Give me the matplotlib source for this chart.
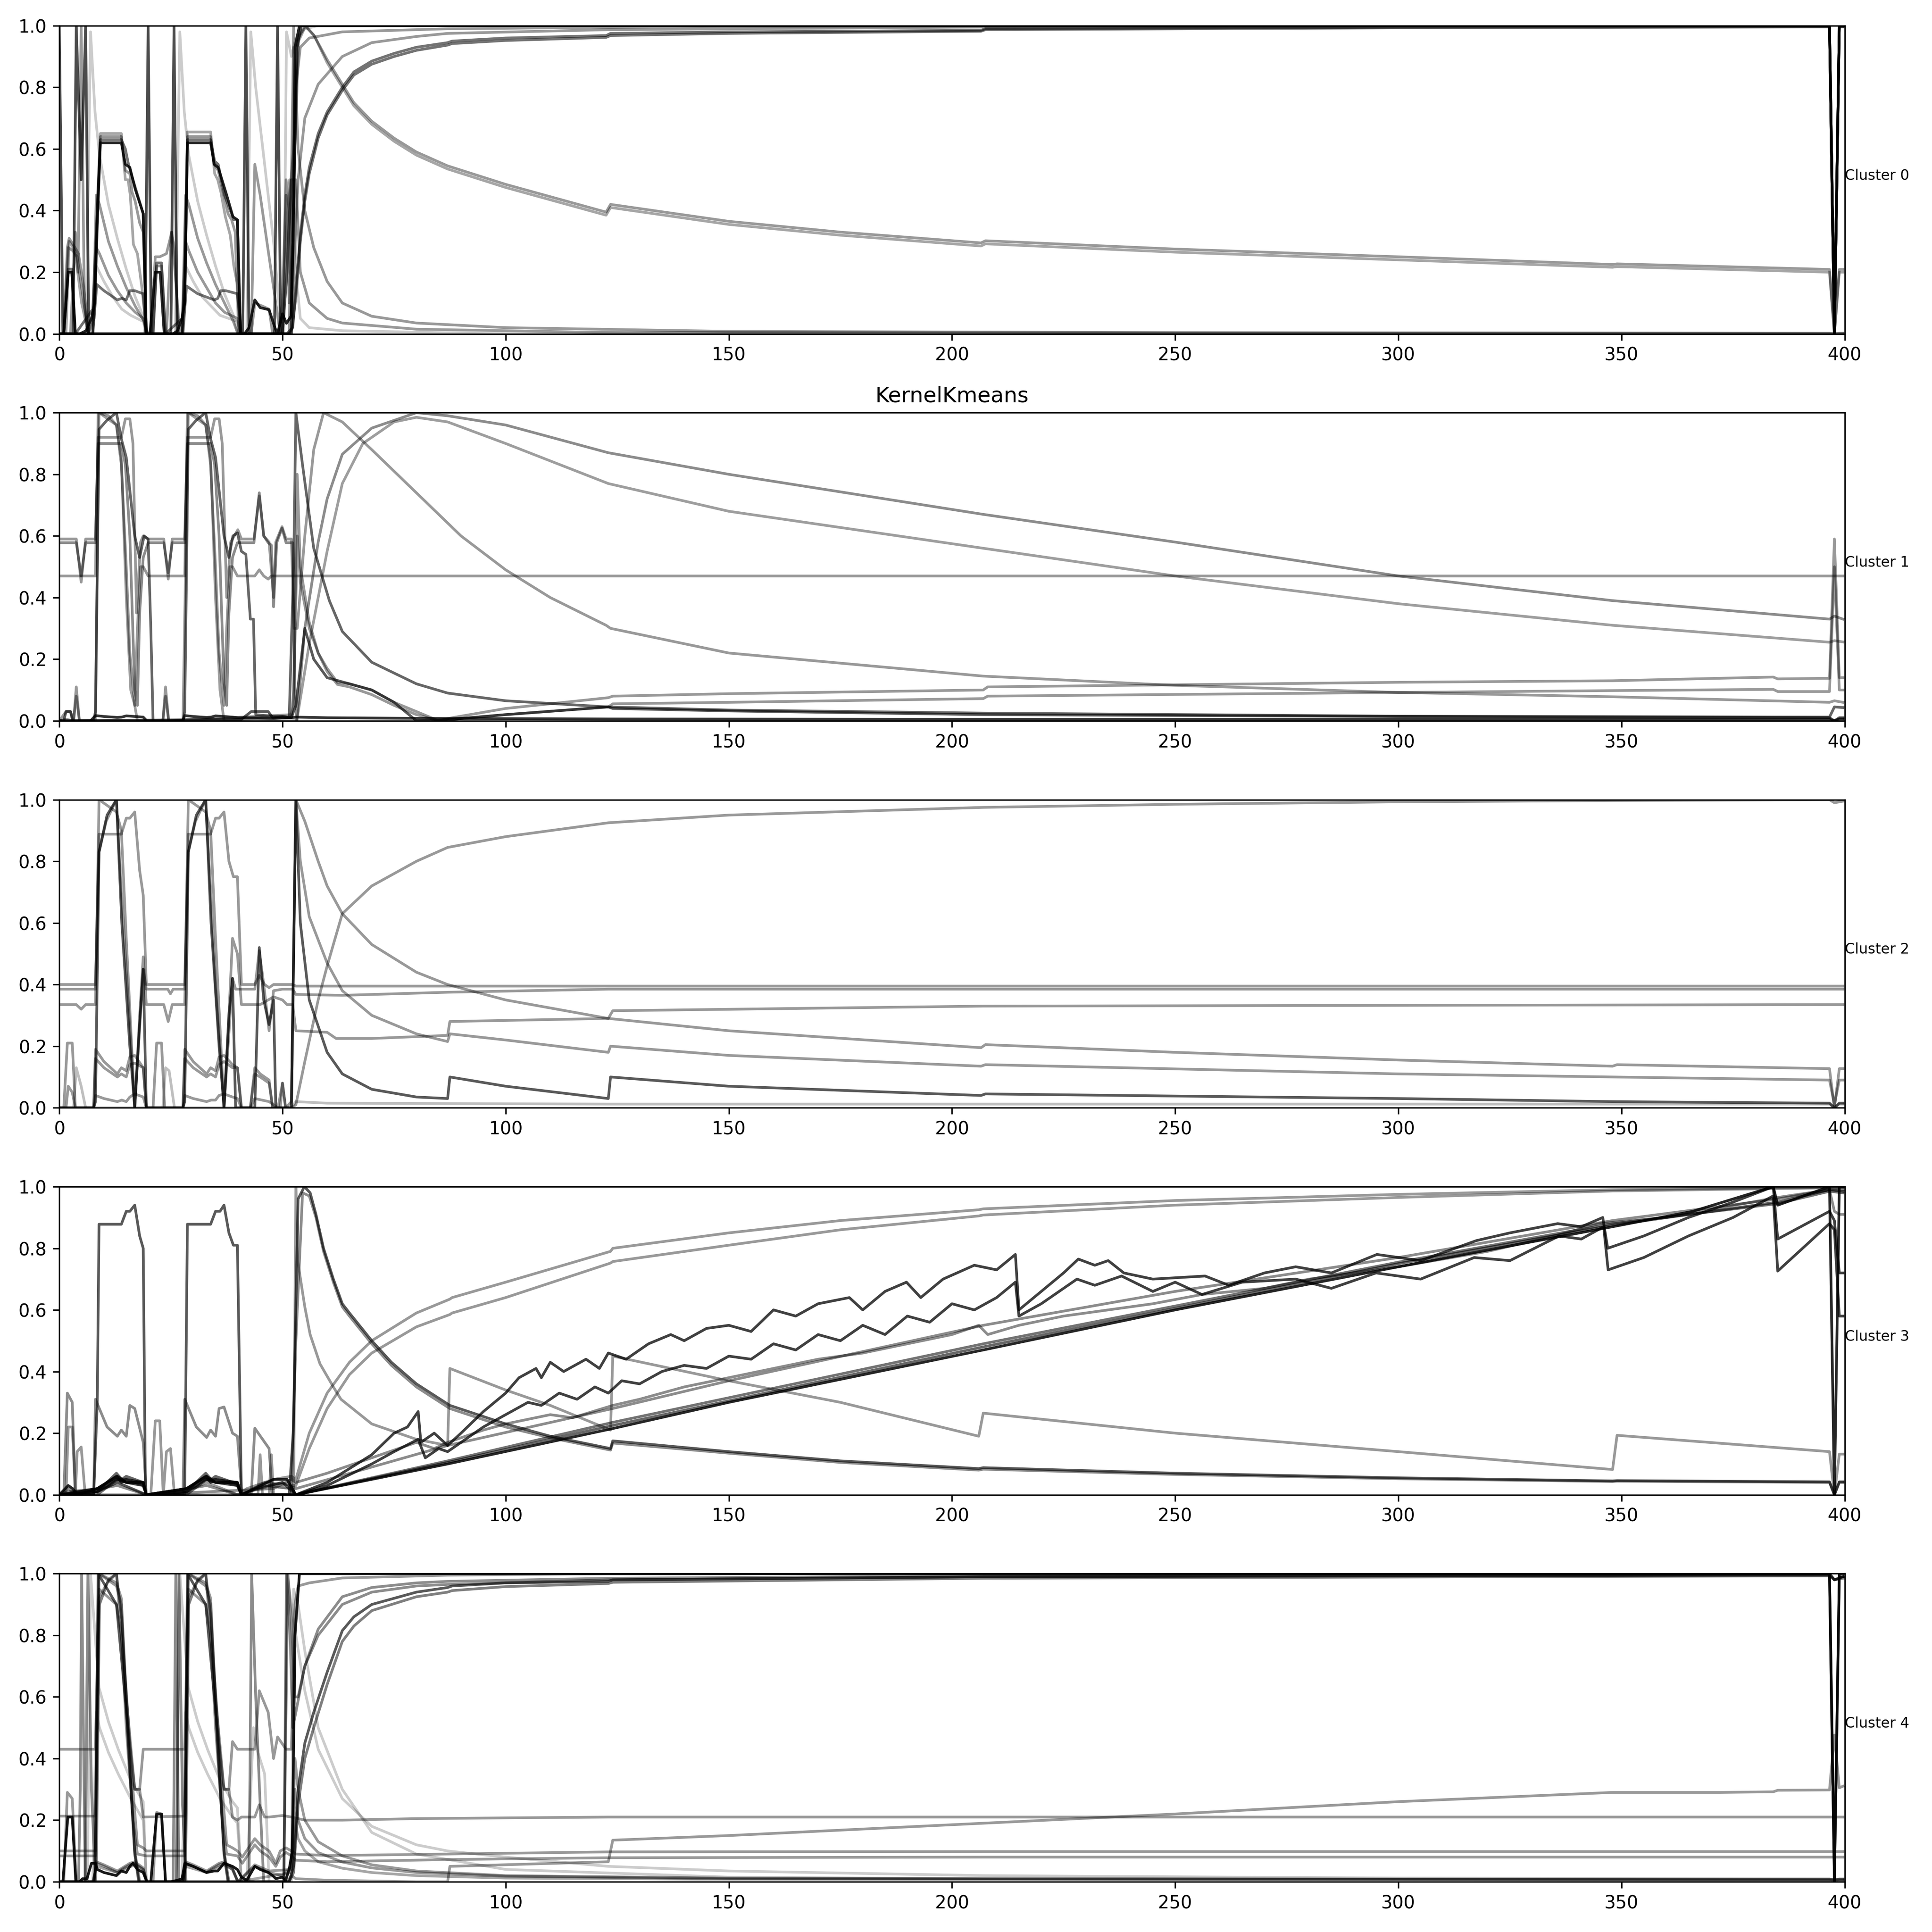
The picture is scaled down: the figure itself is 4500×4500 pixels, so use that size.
import matplotlib
matplotlib.use("Agg")
import matplotlib.pyplot as plt

# Valeurs : chaque courbe = liste de points (x, y)
cluster_labels = ["Cluster 0", "Cluster 1", "Cluster 2", "Cluster 3", "Cluster 4"]
titre = "KernelKmeans"

# ---------------- Cluster 0 ----------------
c0_lines = [
    [(0,0),(1,0),(2,0.2),(2.8,0.2),(3.6,0),(4.6,0),(6,0.01),(7.2,0.05),(7.9,0.1),(8.5,0.35),(9.2,0.62),(13.9,0.62),(14.8,0.55),(15.8,0.54),(17,0.47),(18.8,0.39),(19.5,0),(20.3,0),(21.5,0.2),(22.6,0.2),(23.5,0),(25.5,0),(26.5,0.01),(27.5,0.05),(28.1,0.1),(28.7,0.62),(33.9,0.62),(34.7,0.55),(35.6,0.54),(37.5,0.45),(38.9,0.38),(39.9,0.37),(40.6,0),(41.5,0),(42.5,0.02),(43.8,0.11),(45,0.085),(47,0.078),(48.3,0.02),(48.9,0),(50,0.065),(50.9,0.034),(51.9,0.057),(52.4,0.3),(52.8,0.93),(53.8,1.0),(396.6,1.0),(397.7,0.0),(398.8,1.0),(399.6,1.0)],
    [(0,1.0),(0.8,0),(3.1,0),(3.8,1.0),(4.9,0.5),(5.9,1.0),(6.6,0),(19.2,0),(19.9,1.0),(20.6,0),(25,0),(25.7,1.0),(26.4,0),(41.1,0),(41.8,1.0),(42.5,0),(48.2,0),(48.9,1.0),(49.6,0),(52,0),(52.6,0.5),(53.3,0.93),(54.2,1.0),(396.6,1.0),(397.7,0.0),(398.8,1.0),(399.6,1.0)],
    [(0,0),(1,0),(2,0.28),(3,0.27),(4,0.25),(5,0.15),(6.5,0),(7.8,0.05),(8.5,0.4),(9.2,0.64),(13.9,0.64),(14.8,0.53),(15.8,0.52),(16.3,0.46),(17,0.43),(18,0.36),(18.8,0.33),(19.5,0),(21,0),(21.8,0.22),(22.9,0.22),(23.8,0),(27.5,0),(28.1,0.1),(28.7,0.64),(33.9,0.64),(34.7,0.55),(35.6,0.53),(37.8,0.39),(38.6,0.37),(39.4,0.33),(40.2,0),(43,0),(43.8,0.1),(45.5,0.09),(47,0.08),(47.8,0),(50,0),(51,0.2),(51.8,0.48),(52.5,0.6),(53.3,0.95),(55,1.0),(57,0.97),(60,0.89),(63.4,0.81),(66,0.75),(70,0.69),(75,0.635),(80,0.59),(87,0.545),(100,0.485),(110,0.445),(122.5,0.395),(123.5,0.42),(150,0.365),(175,0.33),(206.5,0.295),(207.5,0.302),(250,0.275),(300,0.25),(348,0.225),(349,0.227),(396.6,0.209),(397.7,0.0),(398.8,0.209),(399.6,0.209)],
    [(0,0),(1.5,0),(2.2,0.3),(3.5,0.27),(5,0.1),(6.5,0),(8,0.1),(8.6,0.45),(9.2,0.65),(13.9,0.65),(14.8,0.5),(15.4,0.5),(15.9,0.45),(16.6,0.29),(17.5,0.26),(18.5,0.15),(19.2,0.05),(19.6,0),(27.5,0),(28.1,0.25),(28.7,0.655),(33.9,0.655),(34.8,0.52),(35.5,0.5),(36.2,0.46),(37.2,0.38),(38.3,0.32),(39.1,0.22),(39.9,0.16),(40.5,0),(50,0),(51,0.35),(51.6,0.5),(52.3,0.3),(52.8,0.6),(53.6,0.95),(55.2,1.0),(57.2,0.965),(60,0.88),(63.4,0.8),(66,0.74),(70,0.68),(75,0.625),(80,0.58),(87,0.535),(100,0.475),(110,0.435),(122.5,0.385),(123.5,0.41),(150,0.355),(175,0.32),(206.5,0.285),(207.5,0.292),(250,0.265),(300,0.24),(348,0.216),(349,0.218),(396.6,0.2),(397.7,0.0),(398.8,0.2),(399.6,0.2)],
    [(0,0),(1,0),(2,0.21),(2.8,0.21),(3.6,0),(7.5,0.08),(8.5,0.4),(9.2,0.63),(13.9,0.63),(14.8,0.6),(15.5,0.55),(16.5,0.5),(18.8,0.39),(19.5,0),(21,0),(21.8,0.23),(22.9,0.23),(23.8,0),(27.5,0.05),(28.1,0.12),(28.7,0.63),(33.9,0.63),(34.8,0.56),(35.6,0.55),(37,0.45),(39.1,0.37),(39.9,0.37),(40.6,0),(51.5,0),(52.3,0.02),(53,0.15),(54,0.32),(55,0.45),(56,0.54),(58,0.65),(60,0.72),(63.4,0.8),(66,0.85),(70,0.885),(75,0.91),(80,0.93),(87,0.945),(88,0.95),(100,0.96),(122.5,0.968),(123.5,0.975),(150,0.98),(206.5,0.985),(207.5,0.99),(300,0.995),(396.6,0.997),(397.7,0.0),(398.8,0.997),(399.6,0.997)],
    [(0,0),(7.5,0),(8.4,0.16),(10,0.14),(13,0.11),(14,0.115),(15,0.11),(15.8,0.14),(16.9,0.14),(18.8,0.13),(19.5,0),(27.7,0),(28.5,0.155),(31,0.13),(34.7,0.11),(35.5,0.115),(36.2,0.14),(37.3,0.14),(39.9,0.13),(40.8,0),(51,0),(52.2,0.02),(53,0.12),(54,0.3),(55,0.43),(56,0.52),(58,0.635),(60,0.71),(63.4,0.79),(66,0.84),(70,0.875),(75,0.9),(80,0.92),(87,0.937),(88,0.942),(100,0.952),(122.5,0.962),(123.5,0.968),(150,0.975),(206.5,0.982),(207.5,0.987),(300,0.993),(396.6,0.996),(397.7,0.0),(398.8,0.996),(399.6,0.996)],
    [(0,0),(1,0),(1.8,0.28),(2.2,0.31),(3.5,0.28),(4.3,0.26),(5.5,0.15),(6.5,0),(20.5,0),(21.5,0.25),(22.5,0.25),(24,0.26),(25.2,0.33),(26.2,0.15),(27,0),(49,0),(50,0.1),(50.8,0.5),(51.5,0.4),(52.2,0.05),(52.8,0.3),(53.5,0.5),(55,0.7),(58,0.81),(63.4,0.9),(70,0.945),(80,0.965),(87,0.975),(123,0.987),(200,0.995),(300,1.0),(396.6,1.0),(397.7,0.0),(398.8,1.0),(399.6,1.0)],
    [(0,0),(2.5,0),(3.6,0.33),(4.2,0.2),(4.9,1.0),(5.6,0.1),(6.5,0),(24,0),(25.1,0.33),(25.8,0.28),(26.7,0),(50,0),(50.8,0.45),(51.5,0.1),(52.3,0.3),(53,0.8),(54,0.93),(56,0.96),(63.4,0.98),(87,0.99),(150,0.998),(396.6,1.0),(397.7,0.0),(398.8,1.0),(399.6,1.0)],
    [(0,0),(6,0),(7,0.98),(8,0.72),(9,0.58),(11,0.42),(13,0.31),(15,0.21),(17,0.12),(19,0.05),(19.8,0),(26,0),(27,0.98),(28,0.72),(29,0.58),(31,0.43),(33,0.32),(35,0.22),(37,0.13),(39,0.06),(40,0),(42,0),(42.9,0.98),(44,0.8),(46,0.55),(48,0.3),(49.5,0.05),(50.3,0),(50.9,0.98),(52,0.9),(53,0.96),(55,0.99),(58,1.0),(396.6,1.0),(397.7,0.0),(398.8,1.0),(399.6,1.0)],
    [(0,0),(7.5,0),(8.3,0.45),(9,0.42),(11,0.3),(13,0.22),(15,0.15),(17,0.09),(19,0.04),(19.8,0),(27.5,0),(28.3,0.45),(29,0.42),(31,0.31),(33,0.23),(35,0.16),(37,0.1),(39,0.04),(40,0),(43,0),(43.8,0.55),(45,0.45),(47,0.25),(48.5,0.1),(49.5,0),(51.5,0),(52.5,1.0),(53.5,0.6),(55,0.4),(57,0.28),(60,0.17),(63.4,0.1),(70,0.057),(80,0.035),(100,0.02),(150,0.008),(250,0.004),(396.6,0.002),(397.7,0.0),(398.8,0.002),(399.6,0.002)],
    [(0,0),(7.5,0),(8.3,0.28),(9,0.26),(11,0.19),(13,0.14),(15,0.1),(17,0.07),(18.8,0.05),(19.6,0),(27.5,0),(28.3,0.3),(29,0.27),(31,0.2),(33,0.15),(35,0.1),(37,0.07),(39.9,0.05),(40.6,0),(50,0),(51,0.2),(52,0.5),(53,0.5),(54,0.2),(56,0.1),(60,0.05),(63.4,0.035),(80,0.015),(120,0.005),(399.6,0.0)],
    [(0,0),(7.5,0),(8.3,0.22),(10,0.17),(12,0.12),(14,0.08),(16,0.06),(18.8,0.04),(19.6,0),(27.5,0),(28.3,0.22),(30,0.17),(32,0.12),(34,0.09),(36,0.06),(39.9,0.04),(40.6,0),(52,0),(52.5,0.93),(53,0.2),(54,0.05),(56,0.02),(63.4,0.01),(100,0.0),(399.6,0.0)],
]
c0_alpha = [0.85, 0.7, 0.4, 0.35, 0.55, 0.55, 0.4, 0.4, 0.2, 0.4, 0.4, 0.2]

# ---------------- Cluster 1 ----------------
c1_lines = [
    [(0,0.59),(3.8,0.59),(4.9,0.45),(5.9,0.59),(8.1,0.59),(8.7,0.92),(13.9,0.92),(14.8,0.98),(15.8,0.98),(16.5,0.9),(17.3,0.35),(18.2,0.58),(18.8,0.6),(19.9,0.59),(23.4,0.59),(24.4,0.46),(25.3,0.59),(28.1,0.59),(28.7,0.92),(33.9,0.92),(34.8,0.98),(35.8,0.98),(36.5,0.9),(37.5,0.4),(38.4,0.58),(39.2,0.6),(40,0.62),(40.8,0.59),(43.6,0.59),(44.8,0.73),(45.8,0.6),(47,0.58),(48,0.4),(48.5,0.58),(49.9,0.63),(50.8,0.59),(52,0.59),(52.6,0.3),(53.3,0.3),(55,0.6),(57,0.88),(59.2,1.0),(63.4,0.97),(70,0.88),(80,0.74),(90,0.6),(100,0.49),(110,0.4),(122.5,0.31),(123.5,0.3),(150,0.22),(207,0.145),(250,0.115),(300,0.092),(348,0.078),(396.6,0.06),(397.7,0.065),(399.6,0.06)],
    [(0,0.578),(3.8,0.578),(4.9,0.47),(5.9,0.578),(8.1,0.578),(8.7,0.9),(13.9,0.9),(14.8,0.83),(15.8,0.6),(16.9,0.1),(17.5,0.05),(18,0.35),(18.8,0.53),(19.9,0.578),(23.4,0.578),(24.4,0.48),(25.3,0.578),(28.1,0.578),(28.7,0.9),(33.9,0.9),(34.8,0.83),(35.8,0.6),(36.9,0.12),(37.5,0.05),(38,0.35),(38.8,0.53),(39.9,0.578),(43.6,0.578),(44.8,0.74),(45.8,0.6),(46.8,0.578),(47.5,0.57),(48,0.37),(48.7,0.578),(49.9,0.625),(50.8,0.578),(52.3,0.578),(52.8,0.1),(53.2,0.0),(55,0.3),(58,0.58),(60,0.72),(63.4,0.865),(70,0.95),(80,1.0),(87,0.99),(100,0.96),(123,0.87),(150,0.8),(207,0.67),(250,0.58),(300,0.47),(348,0.39),(396.6,0.33),(397.7,0.34),(399.6,0.33)],
    [(0,0.47),(8.1,0.47),(8.7,1.0),(11,0.99),(12.8,0.96),(13.9,0.83),(15,0.5),(15.8,0.22),(16.9,0.05),(17.5,0.3),(18.2,0.5),(18.8,0.5),(19.9,0.47),(28.1,0.47),(28.7,1.0),(31,0.99),(32.8,0.96),(33.9,0.83),(35,0.5),(35.8,0.22),(36.9,0.05),(37.5,0.3),(38.2,0.5),(38.8,0.5),(39.9,0.47),(43.8,0.47),(44.8,0.49),(45.8,0.47),(46.8,0.46),(47.5,0.47),(399.6,0.47)],
    [(0,0),(7.7,0),(8.1,0.03),(8.9,0.946),(10.7,0.976),(12.8,1.0),(13.9,0.915),(15,0.855),(16.9,0.6),(18,0.53),(19,0.6),(19.9,0.59),(20.5,0.3),(21,0),(27.7,0),(28.1,0.03),(28.9,0.946),(30.7,0.976),(32.8,1.0),(33.9,0.915),(35,0.855),(36.9,0.6),(38,0.53),(38.9,0.6),(39.9,0.61),(40.8,0.55),(41.8,0.54),(42.8,0.33),(43.5,0.33),(44,0.02),(51.5,0.01),(52.5,0.5),(53,1.0),(54.5,0.83),(57,0.56),(60.5,0.39),(63.4,0.29),(70,0.19),(80,0.12),(87,0.09),(100,0.065),(123,0.045),(150,0.035),(207,0.025),(300,0.015),(396.6,0.012),(397.7,0.045),(399.6,0.043)],
    [(0,0),(7,0),(8.1,0.017),(10,0.014),(13,0.011),(14,0.012),(15,0.016),(16,0.015),(18.8,0.012),(19.6,0),(27.7,0),(28.1,0.017),(30,0.014),(33,0.011),(34,0.012),(35,0.016),(36,0.015),(38.8,0.012),(40,0.01),(44,0.01),(48,0.008),(50,0.01),(52,0.01),(53,0.012),(60,0.01),(80,0.008),(123,0.006),(207,0.005),(300,0.005),(396.6,0.005),(397.7,0.0),(398.8,0.006),(399.6,0.006)],
    [(0,0),(1,0),(1.5,0.03),(2.5,0.03),(3,0),(40.8,0.005),(43,0.03),(44.8,0.03),(46.8,0.03),(47.8,0.01),(50,0.015),(52,0.01),(53,0.05),(55,0.3),(57,0.2),(60,0.14),(65,0.12),(70,0.1),(75,0.06),(80,0.0),(88,0.005),(100,0.02),(123,0.045),(124,0.04),(150,0.032),(207,0.02),(300,0.014),(348,0.012),(396.6,0.01),(397.7,0.0),(398.8,0.01),(399.6,0.01)],
    [(0,0),(1.5,0.005),(3.2,0.0),(3.8,0.08),(4.5,0.0),(23.2,0),(23.8,0.08),(24.5,0.0),(52,0.02),(52.5,0.05),(53.3,0.6),(54,0.45),(56,0.3),(58,0.22),(60,0.17),(62.3,0.125),(65,0.12),(70,0.1),(75,0.06),(80,0.03),(85,0.0),(88,0.01),(100,0.04),(123,0.075),(124,0.08),(150,0.088),(207,0.1),(208,0.11),(300,0.125),(348,0.13),(384,0.142),(385,0.136),(396.6,0.138),(397.7,0.59),(398.8,0.14),(399.6,0.14)],
    [(0,0.0),(1.5,0.03),(2.5,0.03),(3.2,0.0),(3.8,0.11),(4.5,0.0),(23.2,0),(23.8,0.11),(24.5,0.0),(52,0.01),(52.5,0.1),(53.3,0.8),(54,0.5),(56,0.32),(58,0.22),(60,0.16),(62.3,0.118),(65,0.11),(70,0.085),(75,0.05),(80,0.02),(85,0.0),(88,0.005),(100,0.02),(123,0.045),(124,0.055),(150,0.06),(207,0.072),(208,0.08),(300,0.092),(348,0.098),(384,0.102),(385,0.095),(396.6,0.095),(397.7,0.5),(398.8,0.1),(399.6,0.1)],
    [(0,0),(8.1,0),(8.9,1.0),(12.8,0.96),(13.9,0.85),(15,0.4),(16,0.1),(16.9,0.05),(17.5,0.0),(27.7,0),(28.9,1.0),(32.8,0.96),(33.9,0.85),(35,0.4),(36,0.1),(36.9,0.0),(52.5,0.0),(53.2,0.0),(56,0.25),(60,0.55),(63.4,0.77),(68,0.9),(75,0.97),(80,0.985),(87,0.97),(100,0.9),(123,0.77),(150,0.68),(207,0.56),(250,0.47),(300,0.38),(348,0.31),(396.6,0.255),(397.7,0.26),(399.6,0.256)],
]
c1_alpha = [0.4, 0.45, 0.4, 0.6, 0.8, 0.65, 0.4, 0.4, 0.38]

# ---------------- Cluster 2 ----------------
c2_lines = [
    [(0,0.4),(8.1,0.4),(8.9,0.888),(13.9,0.888),(15,0.94),(15.8,0.94),(16.9,0.96),(18,0.77),(18.8,0.69),(19.5,0.4),(28.1,0.4),(28.9,0.888),(33.9,0.888),(35,0.94),(35.8,0.94),(36.9,0.96),(38,0.8),(39,0.75),(39.9,0.75),(40.8,0.4),(43.8,0.4),(44.8,0.43),(46,0.4),(47,0.39),(48,0.4),(52.3,0.4),(53,0.395),(399.6,0.395)],
    [(0,0.385),(8.1,0.385),(8.9,0.83),(10.5,0.93),(12.8,1.0),(13.9,0.7),(15,0.45),(16.9,0.0),(18.8,0.45),(19.5,0.385),(24.3,0.385),(24.9,0.37),(25.5,0.385),(28.1,0.385),(28.9,0.83),(30.5,0.93),(32.8,1.0),(33.9,0.7),(35,0.4),(36.9,0.0),(38.8,0.42),(39.5,0.385),(43.8,0.385),(44.8,0.51),(45.8,0.4),(47,0.25),(48,0.38),(50,0.385),(52.3,0.385),(53,0.368),(63.4,0.365),(87,0.375),(123,0.385),(399.6,0.385)],
    [(0,0.335),(3.8,0.335),(4.9,0.32),(5.9,0.335),(8.1,0.335),(8.9,1.0),(12.8,0.96),(13.9,0.9),(15,0.55),(16.9,0.0),(18,0.3),(18.8,0.49),(19.5,0.335),(23.4,0.335),(24.4,0.28),(25.3,0.335),(28.1,0.335),(28.9,1.0),(32.8,0.96),(33.9,0.9),(35,0.55),(36.9,0.0),(38,0.3),(38.8,0.55),(39.9,0.5),(40.8,0.335),(45,0.335),(46.8,0.35),(48,0.36),(50,0.35),(51,0.335),(52.3,0.335),(53,0.25),(60,0.245),(62,0.225),(70,0.225),(87,0.235),(87.5,0.28),(123,0.29),(124,0.315),(207,0.33),(399.6,0.335)],
    [(0,0),(7.7,0),(8.1,0.02),(8.9,0.83),(10.7,0.95),(12.8,1.0),(14,0.6),(15.8,0.2),(16.9,0.0),(17.9,0.25),(18.8,0.45),(19.5,0.0),(27.7,0),(28.1,0.02),(28.9,0.83),(30.7,0.95),(32.8,1.0),(34,0.6),(35.8,0.2),(36.9,0.0),(38,0.3),(38.8,0.42),(39.5,0.0),(43.8,0.0),(44.8,0.52),(45.8,0.35),(47,0.27),(48,0.35),(48.5,0.0),(52,0.0),(52.5,0.5),(53,1.0),(54,0.6),(56,0.35),(60,0.18),(63.4,0.11),(70,0.06),(80,0.035),(87,0.03),(87.5,0.1),(100,0.07),(123,0.03),(123.5,0.1),(150,0.07),(206.5,0.04),(207.5,0.045),(300,0.03),(348,0.02),(396.6,0.015),(397.7,0.0),(398.8,0.015),(399.6,0.015)],
    [(0,0),(1,0),(1.8,0.21),(2.9,0.21),(3.6,0.0),(7.7,0.0),(8.1,0.19),(10,0.15),(13,0.11),(13.9,0.13),(15,0.12),(15.8,0.165),(16.9,0.17),(18.8,0.13),(19.5,0.0),(21,0.0),(21.8,0.21),(22.9,0.21),(23.6,0.0),(27.7,0),(28.1,0.19),(30,0.15),(33,0.11),(33.9,0.13),(35,0.12),(35.8,0.165),(36.9,0.17),(38.8,0.14),(39.9,0.13),(40.8,0.0),(42.8,0.0),(43.8,0.13),(45,0.11),(47,0.09),(47.8,0.0),(49.5,0.0),(50,0.08),(50.7,0.0),(52,0.02),(53,1.0),(55,0.93),(58,0.8),(60,0.72),(63.4,0.63),(70,0.53),(80,0.44),(87,0.4),(100,0.35),(123,0.29),(150,0.25),(206.5,0.195),(207.5,0.205),(250,0.18),(300,0.155),(348,0.135),(349,0.14),(396.6,0.127),(397.7,0.0),(398.8,0.127),(399.6,0.127)],
    [(0,0),(1.5,0),(2,0.07),(2.9,0.05),(3.6,0.0),(7.7,0.0),(8.1,0.16),(10,0.13),(13,0.1),(13.9,0.11),(15,0.1),(15.8,0.14),(16.9,0.145),(18.8,0.13),(19.5,0.0),(27.7,0),(28.1,0.16),(30,0.13),(33,0.1),(33.9,0.11),(35,0.1),(35.8,0.14),(36.9,0.15),(38.8,0.13),(39.9,0.13),(40.8,0.0),(42.8,0.0),(43.8,0.11),(45,0.1),(47,0.08),(47.8,0.0),(52,0.0),(53,1.0),(54,0.8),(56,0.62),(60,0.47),(63.4,0.38),(70,0.3),(80,0.24),(87,0.215),(87.5,0.24),(100,0.22),(123,0.18),(123.5,0.2),(150,0.17),(206.5,0.135),(207.5,0.14),(300,0.11),(348,0.1),(396.6,0.09),(397.7,0.01),(398.8,0.09),(399.6,0.09)],
    [(0,0),(7.7,0),(8.1,0.04),(10,0.03),(13,0.02),(14,0.025),(15,0.02),(15.8,0.035),(16.9,0.045),(18.8,0.035),(19.5,0.0),(27.7,0),(28.1,0.04),(30,0.03),(33,0.02),(34,0.025),(35,0.025),(35.8,0.04),(36.9,0.045),(38.8,0.035),(39.9,0.03),(40.8,0.0),(42.8,0.0),(43.8,0.03),(47,0.02),(49,0.0),(50,0.08),(50.7,0.0),(52,0.0),(53,0.01),(55,0.15),(58,0.35),(60,0.46),(63.4,0.63),(70,0.72),(80,0.8),(87,0.845),(100,0.88),(123,0.925),(150,0.95),(207,0.975),(250,0.985),(300,0.993),(348,0.997),(396.6,1.0),(397.7,0.99),(399.6,0.995)],
    [(0,0),(3.2,0),(3.8,0.13),(4.9,0.07),(5.9,0.0),(23.2,0),(23.8,0.13),(24.6,0.12),(25.8,0.0),(52,0.0),(53,0.02),(60,0.015),(123,0.012),(396.6,0.012),(397.7,0),(398.8,0.012),(399.6,0.012)],
]
c2_alpha = [0.4, 0.4, 0.4, 0.65, 0.4, 0.4, 0.4, 0.25]

# ---------------- Cluster 3 ----------------
c3_lines = [
    [(0,0),(7.7,0),(8.5,0.3),(8.9,0.878),(13.9,0.878),(15,0.92),(15.8,0.92),(16.9,0.94),(18,0.84),(18.8,0.8),(19.3,0),(28.1,0),(28.7,0.878),(33.9,0.878),(35,0.92),(36,0.92),(36.9,0.94),(38,0.85),(39,0.81),(39.9,0.81),(40.8,0),(51.5,0),(52.4,0.2),(53.5,0.96),(54.9,1.0),(56.2,0.98),(57.5,0.91),(59.2,0.8),(61.4,0.7),(63.4,0.62),(65,0.59),(70,0.5),(74.4,0.43),(80,0.36),(87.5,0.29),(100,0.23),(110,0.19),(123.5,0.15),(124,0.175),(150,0.14),(175,0.11),(206,0.085),(207,0.088),(250,0.07),(300,0.055),(348,0.045),(349,0.046),(396.6,0.042),(397.7,0.0),(398.8,0.042),(399.6,0.042)],
    [(0,0),(1,0),(1.8,0.33),(2.9,0.3),(3.6,0.0),(7.7,0),(8.1,0.31),(10.7,0.22),(13,0.19),(13.9,0.21),(15,0.19),(15.8,0.29),(16.9,0.28),(18.8,0.17),(19.5,0),(27.7,0),(28.1,0.31),(30.7,0.22),(33,0.186),(33.9,0.21),(35,0.19),(35.8,0.28),(36.9,0.285),(38.8,0.2),(39.9,0.19),(40.9,0),(43,0),(43.8,0.216),(47,0.15),(47.7,0),(52,0),(53,0.5),(54.5,0.98),(56,0.97),(57.5,0.9),(59.2,0.79),(61.4,0.69),(63.4,0.61),(65,0.58),(70,0.49),(74.4,0.42),(80,0.35),(87.5,0.28),(100,0.22),(110,0.185),(123.5,0.145),(124,0.168),(150,0.135),(175,0.105),(206,0.08),(207,0.083),(250,0.066),(300,0.052),(348,0.043),(349,0.044),(396.6,0.04),(397.7,0.0),(398.8,0.04),(399.6,0.04)],
    [(0,0),(1.5,0),(2,0.22),(2.9,0.22),(3.6,0),(4,0.14),(4.9,0.155),(5.8,0.0),(20.5,0),(21.5,0.24),(22.5,0.24),(23.3,0.0),(24,0.14),(24.9,0.15),(25.8,0.0),(44.5,0.0),(45,0.13),(45.5,0.0),(47,0),(47.5,0.13),(48,0.0),(52.5,0.0),(53,1.0),(53.4,0.76),(55,0.61),(56.2,0.52),(58.4,0.425),(61.4,0.35),(63.1,0.31),(70,0.23),(80,0.18),(87,0.16),(87.5,0.41),(100,0.34),(110,0.29),(123.5,0.21),(124,0.45),(150,0.37),(175,0.3),(206,0.19),(207,0.265),(250,0.2),(300,0.14),(348,0.082),(349,0.193),(396.6,0.14),(397.7,0),(398.8,0.132),(399.6,0.132)],
    [(0,0),(8.5,0.01),(13,0.04),(19.5,0),(28.5,0.01),(33,0.04),(40,0),(42,0.02),(48,0.05),(52,0.06),(53,0.05),(54,0.1),(56,0.2),(60,0.33),(65,0.43),(70,0.5),(80,0.59),(87.5,0.635),(88,0.64),(100,0.69),(123.5,0.79),(124,0.8),(150,0.85),(175,0.89),(206,0.925),(207,0.928),(250,0.955),(300,0.975),(348,0.99),(396.6,0.998),(399.6,0.998)],
    [(0,0),(8.5,0.02),(13,0.05),(15,0.04),(18.8,0.04),(19.5,0),(28.5,0.02),(33,0.05),(35,0.04),(39.9,0.04),(40.8,0),(46,0.04),(52,0.03),(53,0.03),(54,0.07),(56,0.15),(60,0.28),(65,0.39),(70,0.46),(80,0.545),(87.5,0.585),(88,0.59),(100,0.64),(123.5,0.752),(124,0.757),(150,0.81),(175,0.86),(206,0.905),(207,0.908),(250,0.94),(300,0.965),(348,0.986),(396.6,0.996),(399.6,0.996)],
    [(0,0),(2,0.03),(3,0.02),(4,0),(8.5,0.02),(13,0.06),(15,0.04),(18.8,0.04),(19.5,0),(28.5,0.02),(33,0.06),(35,0.04),(39.9,0.04),(40.8,0),(48,0.05),(51,0.05),(53,0.0),(87,0.1),(124,0.215),(150,0.3),(207,0.47),(250,0.6),(300,0.74),(348,0.87),(366,0.92),(384,1.0),(385,0.94),(396.6,1.0),(397.7,0.0),(398.8,1.0),(399.6,1.0)],
    [(0,0),(8.5,0.01),(12.8,0.07),(14,0.05),(15,0.06),(18.8,0.04),(19.5,0),(28.5,0.01),(32.8,0.07),(34,0.05),(35,0.06),(39.9,0.035),(40.8,0),(44,0.02),(50,0.04),(53,0.0),(87,0.105),(124,0.225),(207,0.48),(300,0.75),(348,0.875),(385,0.95),(396.6,0.99),(399.6,0.985)],
    [(0,0),(8.5,0.0),(13,0.05),(15,0.05),(18.8,0.03),(19.5,0),(28.5,0.0),(33,0.05),(35,0.05),(39.9,0.03),(40.8,0),(46,0.03),(52,0.02),(53,0.0),(87,0.11),(124,0.235),(207,0.49),(300,0.755),(348,0.88),(385,0.945),(396.6,0.985),(399.6,0.98)],
    [(0,0),(2,0.01),(9,0.02),(13,0.03),(19.5,0),(29,0.02),(33,0.03),(40,0),(50,0.04),(53,0.02),(70,0.09),(87,0.16),(124,0.28),(150,0.37),(207,0.55),(250,0.66),(300,0.77),(348,0.89),(385,0.96),(396.6,0.99),(397.7,0.92),(398.8,0.91),(399.6,0.91)],
    [(0,0),(2,0.02),(3,0.01),(8.5,0.01),(13,0.04),(19.5,0),(48,0.02),(52,0.05),(53,0.04),(60,0.07),(70,0.12),(80,0.17),(84,0.15),(87,0.17),(95,0.21),(100,0.23),(110,0.26),(115,0.25),(124,0.29),(130,0.31),(140,0.35),(150,0.38),(160,0.41),(170,0.44),(180,0.46),(190,0.49),(200,0.52),(206,0.55),(208,0.52),(215,0.55),(225,0.58),(235,0.6),(245,0.62),(256,0.65),(270,0.67),(280,0.7),(290,0.72),(300,0.74),(320,0.79),(335,0.84),(345,0.88),(360,0.9),(385,0.965),(396.6,0.99),(399.6,0.99)],
    [(0,0),(8.5,0.02),(12.8,0.06),(13.9,0.04),(15,0.05),(18.8,0.04),(19.5,0),(28.5,0.02),(32.8,0.06),(33.9,0.04),(35,0.05),(39.9,0.04),(40.8,0),(53,0.0),(60,0.04),(70,0.13),(75,0.2),(78,0.22),(80.4,0.27),(81,0.17),(84,0.2),(87,0.16),(90,0.2),(95,0.27),(100,0.33),(103,0.38),(106.8,0.41),(108,0.38),(110,0.43),(113,0.4),(118,0.44),(121,0.41),(123,0.46),(127,0.44),(132,0.49),(137,0.52),(140,0.5),(145,0.54),(150,0.55),(155,0.53),(160,0.6),(165,0.58),(170,0.62),(177,0.64),(180,0.6),(185,0.66),(189.8,0.69),(193,0.64),(198,0.7),(205,0.745),(210,0.73),(214.2,0.78),(215,0.6),(220,0.66),(225,0.72),(228.3,0.765),(232,0.745),(235,0.76),(238.5,0.72),(245,0.7),(256.7,0.71),(262,0.68),(270,0.72),(277,0.74),(285,0.72),(295.2,0.78),(305,0.76),(317.5,0.825),(325,0.85),(335.7,0.88),(341,0.87),(345.8,0.9),(346.9,0.8),(355,0.84),(365,0.9),(375,0.95),(384,1.0),(385,0.83),(396.6,0.92),(397.7,0.89),(398.8,0.72),(399.6,0.72)],
    [(0,0),(8.5,0.01),(12.8,0.05),(15,0.04),(18.8,0.03),(19.5,0),(28.5,0.01),(32.8,0.05),(35,0.04),(39.9,0.03),(40.8,0),(53,0),(60,0.03),(70,0.1),(75,0.14),(80.4,0.18),(82,0.12),(85,0.15),(87,0.14),(90,0.17),(95,0.22),(100,0.26),(105,0.3),(108,0.29),(112,0.33),(116,0.31),(120,0.35),(123,0.33),(126,0.37),(130,0.36),(135,0.4),(140,0.42),(145,0.41),(150,0.45),(155,0.44),(160,0.49),(165,0.47),(170,0.52),(175,0.5),(180,0.55),(185,0.52),(190,0.58),(195,0.56),(200,0.62),(205,0.6),(210,0.64),(214.2,0.69),(215,0.58),(220,0.62),(228,0.7),(232,0.68),(238,0.71),(245,0.66),(250,0.69),(256,0.65),(265,0.69),(277,0.7),(285,0.67),(295,0.72),(305,0.7),(317,0.77),(325,0.76),(336,0.84),(341,0.83),(346,0.87),(347,0.73),(355,0.77),(365,0.84),(375,0.9),(384,0.97),(385,0.726),(396.6,0.88),(397.7,0.86),(398.8,0.58),(399.6,0.58)],
]
c3_alpha = [0.65, 0.45, 0.4, 0.4, 0.4, 0.85, 0.6, 0.55, 0.45, 0.45, 0.75, 0.75]

# ---------------- Cluster 4 ----------------
c4_lines = [
    [(0,0),(0.8,0),(1.9,0.21),(2.9,0.21),(3.7,0),(4.5,0),(5.2,0.01),(6.2,0.01),(7.2,0.06),(8.1,0.06),(8.5,0.04),(10,0.03),(12.8,0.02),(13.9,0.035),(15,0.03),(15.8,0.05),(16.5,0.06),(17.5,0.04),(18.8,0.03),(19.6,0),(20.5,0),(21.8,0.22),(22.9,0.22),(23.8,0),(25,0),(26.5,0.005),(27.5,0.01),(28.1,0.06),(30,0.05),(33,0.03),(34.7,0.035),(35.5,0.035),(36.9,0.06),(38.8,0.05),(39.9,0.04),(40.8,0.015),(42,0.005),(43.8,0.05),(45,0.04),(46.8,0.03),(47.8,0.02),(48.5,0.01),(49.9,0.015),(50.7,0.005),(51.5,0.04),(52.2,0.1),(52.8,0.8),(53.8,1.0),(396.6,1.0),(397.7,0),(398.8,1.0),(399.6,1.0)],
    [(0,0),(8,0.0),(8.7,1.0),(12.8,0.9),(15,0.56),(16.9,0.09),(17.8,0.0),(28.1,0.0),(28.7,1.0),(32.8,0.9),(35,0.56),(36.9,0.09),(37.8,0.0),(51.5,0.0),(52.5,0.05),(53.5,0.3),(55,0.45),(57,0.55),(60,0.68),(63.4,0.815),(66,0.86),(70,0.9),(80,0.94),(87,0.955),(88,0.96),(100,0.97),(123,0.975),(124,0.98),(207,0.99),(396.6,0.995),(397.7,0),(398.8,0.99),(399.6,0.99)],
    [(0,0),(7.5,0),(8.3,0.05),(9,0.9),(11,0.98),(12.8,1.0),(14,0.85),(15,0.6),(16.9,0.1),(18,0.0),(27.5,0),(28.3,0.05),(29,0.9),(31,0.98),(32.8,1.0),(34,0.85),(35,0.6),(36.9,0.1),(38,0.0),(51.5,0.0),(52.5,0.03),(53.5,0.25),(55,0.4),(57,0.5),(60,0.64),(63.4,0.78),(66,0.83),(70,0.88),(80,0.925),(87,0.94),(88,0.945),(100,0.958),(123,0.968),(124,0.972),(207,0.985),(396.6,0.993),(397.7,0.98),(399.6,0.985)],
    [(0,0.1),(8.1,0.1),(8.9,0.92),(10.7,0.97),(12.8,1.0),(13.9,0.8),(15,0.62),(16.5,0.3),(17.5,0.12),(18.8,0.11),(19.5,0.1),(28.1,0.1),(28.9,0.92),(30.7,0.97),(32.8,1.0),(33.9,0.8),(35,0.62),(36.5,0.3),(37.5,0.12),(38.8,0.11),(39.9,0.1),(41,0.08),(43.8,0.14),(45,0.12),(47,0.1),(48.5,0.06),(49.5,0.1),(50.8,0.11),(52,0.1),(53,0.09),(60,0.085),(87,0.09),(123,0.097),(207,0.098),(399.6,0.098)],
    [(0,0.084),(8.1,0.084),(8.9,0.95),(12.8,0.9),(13.9,0.8),(15,0.5),(16.5,0.2),(17.5,0.09),(19.5,0.084),(28.1,0.084),(28.9,0.95),(32.8,0.9),(33.9,0.8),(35,0.5),(36.5,0.2),(37.5,0.09),(39.9,0.084),(41,0.06),(43.8,0.12),(45,0.1),(47,0.08),(48.5,0.05),(49.5,0.08),(50.8,0.095),(52,0.084),(53,0.07),(60,0.065),(87,0.072),(123,0.078),(207,0.08),(399.6,0.08)],
    [(0,0.213),(8.1,0.213),(8.9,1.0),(12.8,0.96),(13.9,0.9),(15,0.55),(16.9,0.3),(18,0.3),(18.8,0.21),(28.1,0.213),(28.9,1.0),(32.8,0.96),(33.9,0.9),(35,0.55),(36.9,0.3),(38,0.3),(38.8,0.21),(39.9,0.2),(40.8,0.21),(43.8,0.21),(44.8,0.25),(46,0.21),(47,0.21),(50,0.215),(52,0.21),(55,0.2),(63.4,0.2),(80,0.205),(123,0.21),(399.6,0.21)],
    [(0,0.43),(8.1,0.43),(8.9,1.0),(12.8,0.97),(13.9,0.92),(15,0.6),(16.9,0.3),(18,0.3),(18.8,0.43),(28.1,0.43),(28.9,1.0),(32.8,0.97),(33.9,0.92),(35,0.6),(36.9,0.3),(38,0.3),(38.8,0.455),(39.9,0.43),(43.8,0.43),(44.8,0.62),(46.8,0.55),(48,0.4),(48.9,0.47),(50.8,0.43),(52,0.43),(52.8,0.9),(53.5,0.96),(56,0.97),(63.4,0.986),(87,0.995),(123,1.0),(396.6,1.0),(397.7,0.98),(399.6,0.99)],
    [(0,0),(4.3,0),(4.7,0.31),(5.0,1.0),(5.8,0.0),(25.5,0),(26.1,1.0),(26.8,0.0),(42.5,0.0),(43.1,1.0),(44,0.6),(45,0.25),(45.8,0.0),(50.3,0),(50.9,1.0),(51.7,0.8),(52.3,0.5),(53,0.55),(55,0.7),(58,0.82),(63.4,0.925),(70,0.955),(80,0.97),(87,0.975),(123,0.985),(207,0.993),(300,0.997),(396.6,1.0),(397.7,0.98),(399.6,0.99)],
    [(0,0),(5.8,0),(6.4,1.0),(7.2,0.3),(8.1,0.0),(26.2,0),(26.8,1.0),(27.6,0.25),(28.4,0.0),(50.3,0),(51.2,1.0),(52,0.85),(52.8,0.6),(53.5,0.6),(55,0.7),(58,0.8),(63.4,0.9),(70,0.94),(80,0.96),(87,0.965),(123,0.98),(207,0.99),(396.6,0.998),(397.7,0.98),(399.6,0.99)],
    [(0,0),(6.3,0),(7,1.0),(8.9,0.63),(11,0.52),(13.2,0.43),(16,0.33),(18.8,0.26),(19.5,0.0),(26.3,0),(27,1.0),(28.9,0.63),(31,0.52),(33.2,0.43),(36,0.33),(38.8,0.26),(39.9,0.24),(40.8,0.0),(42,0),(43.5,0.5),(44.5,0.42),(46,0.35),(47,0.0),(50.3,0),(51,1.0),(53,0.8),(55,0.62),(58,0.43),(63.4,0.27),(70,0.18),(80,0.12),(87,0.1),(100,0.08),(123,0.05),(150,0.035),(207,0.02),(300,0.012),(396.6,0.01),(397.7,0.0),(398.8,0.01),(399.6,0.01)],
    [(0,0),(7.5,0),(8.3,0.55),(9,0.5),(11,0.42),(13.2,0.35),(16,0.27),(18.8,0.2),(19.5,0.0),(27.5,0),(28.3,0.55),(29,0.5),(31,0.42),(33.2,0.35),(36,0.27),(38.8,0.21),(39.9,0.19),(40.8,0.0),(52,0),(52.5,0.95),(53.5,0.9),(55,0.75),(58,0.5),(63.4,0.3),(70,0.16),(80,0.09),(100,0.04),(150,0.015),(207,0.01),(396.6,0.005),(397.7,0),(399.6,0.005)],
    [(0,0),(7.7,0),(8.3,0.06),(10,0.05),(13,0.03),(14,0.04),(15.8,0.055),(16.9,0.06),(18.8,0.04),(19.6,0.0),(27.7,0),(28.3,0.06),(30,0.05),(33,0.03),(34,0.04),(35.8,0.055),(36.9,0.06),(38.8,0.04),(40,0.0),(43.8,0.05),(47,0.03),(50,0.02),(52,0.05),(52.8,0.4),(53.5,0.3),(55,0.2),(58,0.13),(63.4,0.084),(70,0.055),(80,0.035),(100,0.02),(150,0.012),(207,0.01),(396.6,0.008),(399.6,0.008)],
    [(0,0),(7.7,0),(8.3,0.065),(10,0.055),(13,0.035),(15.8,0.06),(16.9,0.065),(18.8,0.045),(19.6,0.0),(27.7,0),(28.3,0.065),(30,0.055),(33,0.035),(35.8,0.06),(36.9,0.065),(38.8,0.045),(40,0.0),(43.8,0.055),(47,0.035),(52,0.04),(52.8,0.3),(53.5,0.2),(55,0.14),(58,0.095),(63.4,0.064),(70,0.045),(80,0.03),(100,0.018),(150,0.01),(396.6,0.007),(399.6,0.007)],
    [(0,0),(7.7,0),(8.3,0.05),(13,0.03),(16.9,0.055),(18.8,0.04),(19.6,0.0),(27.7,0),(28.3,0.05),(33,0.03),(36.9,0.055),(38.8,0.04),(40,0.0),(52,0.03),(52.8,0.2),(53.5,0.14),(55,0.1),(58,0.065),(63.4,0.044),(70,0.03),(80,0.02),(100,0.012),(150,0.008),(396.6,0.006),(399.6,0.006)],
    [(0,0),(1,0),(1.8,0.29),(2.9,0.27),(3.8,0.0),(21,0),(21.8,0.225),(22.9,0.22),(23.8,0.0),(51,0),(52,0.02),(53,0.01),(60,0.005),(80,0.0),(87,0.0),(87.5,0.05),(123,0.065),(124,0.135),(150,0.15),(207,0.19),(250,0.22),(300,0.26),(348,0.29),(372,0.29),(384,0.292),(385,0.297),(396.6,0.298),(397.7,0.476),(398.8,0.305),(399.6,0.31)],
]
c4_alpha = [0.9, 0.65, 0.5, 0.4, 0.4, 0.4, 0.4, 0.45, 0.45, 0.2, 0.2, 0.4, 0.4, 0.35, 0.4]

toutes_courbes = [c0_lines, c1_lines, c2_lines, c3_lines, c4_lines]
toutes_alphas = [c0_alpha, c1_alpha, c2_alpha, c3_alpha, c4_alpha]

fig, axes = plt.subplots(5, 1, figsize=(15, 15), dpi=300)
fig.subplots_adjust(left=0.0307, right=0.9548, top=0.9867, bottom=0.026, hspace=0.256)

for i, ax in enumerate(axes):
    for courbe, a in zip(toutes_courbes[i], toutes_alphas[i]):
        xs = [p[0] for p in courbe]
        ys = [p[1] for p in courbe]
        ax.plot(xs, ys, color="k", alpha=a, linewidth=1.5)
    ax.set_xlim(0, 400)
    ax.set_ylim(0, 1)
    ax.text(400, 0.5, cluster_labels[i], fontsize=8)

axes[1].set_title(titre)

fig.savefig("out.png", dpi=300)
